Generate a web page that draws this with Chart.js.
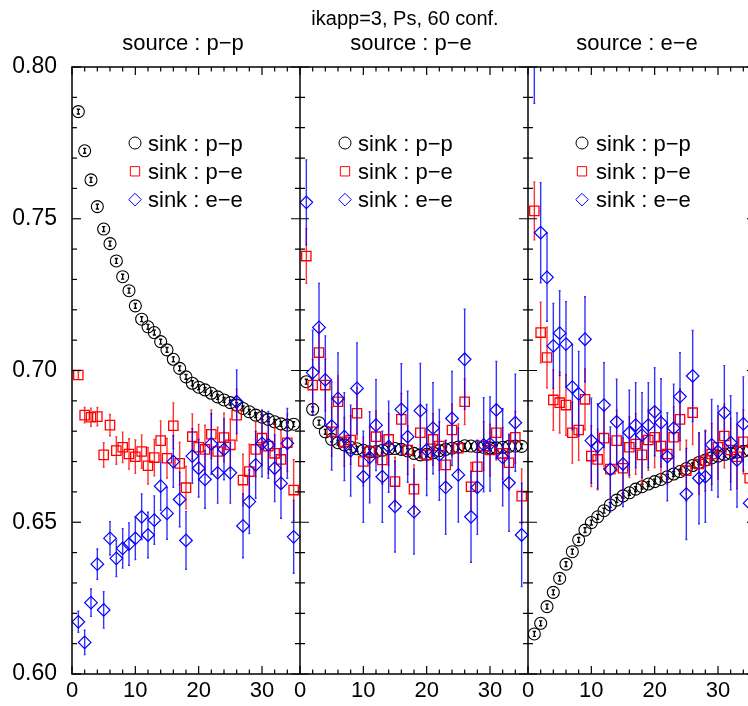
<!DOCTYPE html>
<html>
<head>
<meta charset="utf-8">
<script src="https://cdn.jsdelivr.net/npm/chart.js@4/dist/chart.umd.min.js"></script>
<style>
html,body{margin:0;padding:0;background:#fff;overflow:hidden;width:748px;height:706px;}
#wrap{position:absolute;left:0;top:0;width:810px;height:706px;}
</style>
</head>
<body>
<div id="wrap"><canvas id="c" width="810" height="706" style="width:810px;height:706px"></canvas></div>
<script>
// ---------- data ----------
const chartTitle = 'ikapp=3, Ps, 60 conf.';
const sourceLabels = ['source : p\u2212p', 'source : p\u2212e', 'source : e\u2212e'];
const sinkLabels = ['sink : p\u2212p', 'sink : p\u2212e', 'sink : e\u2212e'];
const steps = [1,2,3,4,5,6,7,8,9,10,11,12,13,14,15,16,17,18,19,20,21,22,23,24,25,26,27,28,29,30,31,32,33,34,35];
const xTickLabels = [0, 10, 20, 30];
const xMinorTicks = [0,2,4,6,8,10,12,14,16,18,20,22,24,26,28,30,32,34];
const yTickLabels = [0.60, 0.65, 0.70, 0.75, 0.80];
const panelWidth = 36;

// source p-p
const srcPP_sinkPP = [0.7853,0.7724,0.7628,0.7540,0.7466,0.7418,0.7361,0.7309,0.7263,0.7213,0.7169,0.7144,0.7125,0.7095,0.7068,0.7037,0.7007,0.6979,0.6958,0.6945,0.6936,0.6925,0.6913,0.6903,0.6894,0.6886,0.6875,0.6864,0.6853,0.6846,0.6839,0.6831,0.6824,0.6820,0.6823];
const errPP_sinkPP = [0.0008,0.0008,0.0008,0.0008,0.0008,0.0008,0.0008,0.0008,0.0008,0.0008,0.0008,0.0008,0.0008,0.0008,0.0008,0.0008,0.0008,0.0008,0.0008,0.0008,0.0008,0.0008,0.0008,0.0008,0.0008,0.0008,0.0008,0.0008,0.0008,0.0008,0.0008,0.0008,0.0008,0.0008,0.0008];
const srcPP_sinkPE = [0.6985,0.6853,0.6846,0.6848,0.6722,0.6820,0.6736,0.6747,0.6725,0.6716,0.6733,0.6686,0.6713,0.6769,0.6711,0.6818,0.6694,0.6614,0.6782,0.6747,0.6740,0.6790,0.6733,0.6779,0.6755,0.6853,0.6639,0.6667,0.6740,0.6777,0.6751,0.6727,0.6707,0.6762,0.6606];
const errPP_sinkPE = [0.0010,0.0025,0.0030,0.0030,0.0040,0.0035,0.0045,0.0050,0.0050,0.0055,0.0055,0.0060,0.0060,0.0065,0.0065,0.0075,0.0070,0.0070,0.0075,0.0075,0.0080,0.0080,0.0080,0.0080,0.0085,0.0085,0.0085,0.0090,0.0090,0.0090,0.0090,0.0095,0.0095,0.0095,0.0100];
const srcPP_sinkEE = [0.6172,0.6104,0.6235,0.6362,0.6211,0.6447,0.6381,0.6414,0.6428,0.6447,0.6518,0.6458,0.6507,0.6619,0.6529,0.6700,0.6575,0.6440,0.6718,0.6678,0.6641,0.6758,0.6663,0.6740,0.6663,0.6897,0.6488,0.6568,0.6689,0.6760,0.6755,0.6678,0.6628,0.6760,0.6452];
const errPP_sinkEE = [0.0035,0.0040,0.0045,0.0050,0.0060,0.0055,0.0060,0.0065,0.0070,0.0070,0.0075,0.0075,0.0080,0.0080,0.0085,0.0085,0.0090,0.0095,0.0090,0.0095,0.0095,0.0100,0.0100,0.0100,0.0100,0.0105,0.0105,0.0105,0.0110,0.0110,0.0110,0.0110,0.0115,0.0115,0.0120];

// source p-e
const srcPE_sinkPP = [0.6963,0.6872,0.6828,0.6798,0.6773,0.6762,0.6755,0.6747,0.6742,0.6737,0.6732,0.6733,0.6737,0.6742,0.6743,0.6740,0.6735,0.6727,0.6722,0.6724,0.6729,0.6736,0.6740,0.6744,0.6748,0.6752,0.6751,0.6749,0.6747,0.6745,0.6745,0.6747,0.6750,0.6751,0.6750];
const errPE_sinkPP = [0.0008,0.0008,0.0008,0.0008,0.0008,0.0008,0.0008,0.0008,0.0008,0.0008,0.0008,0.0008,0.0008,0.0008,0.0008,0.0008,0.0008,0.0008,0.0008,0.0008,0.0008,0.0008,0.0008,0.0008,0.0008,0.0008,0.0008,0.0008,0.0008,0.0008,0.0008,0.0008,0.0008,0.0008,0.0008];
const srcPE_sinkPE = [0.7377,0.6952,0.7059,0.6952,0.6798,0.6897,0.6765,0.6771,0.6859,0.6700,0.6733,0.6782,0.6705,0.6773,0.6634,0.6839,0.6738,0.6609,0.6795,0.6722,0.6773,0.6751,0.6689,0.6804,0.6744,0.6897,0.6617,0.6683,0.6751,0.6738,0.6795,0.6727,0.6696,0.6780,0.6586];
const errPE_sinkPE = [0.0090,0.0085,0.0090,0.0085,0.0080,0.0085,0.0080,0.0080,0.0085,0.0080,0.0080,0.0085,0.0080,0.0085,0.0080,0.0085,0.0080,0.0080,0.0085,0.0080,0.0085,0.0080,0.0080,0.0085,0.0080,0.0075,0.0080,0.0085,0.0080,0.0085,0.0090,0.0085,0.0090,0.0085,0.0090];
const srcPE_sinkEE = [0.7554,0.6993,0.7142,0.6969,0.6817,0.6908,0.6782,0.6736,0.6941,0.6650,0.6714,0.6820,0.6650,0.6749,0.6552,0.6872,0.6782,0.6535,0.6868,0.6738,0.6810,0.6722,0.6615,0.6842,0.6656,0.7037,0.6518,0.6615,0.6755,0.6758,0.6870,0.6714,0.6630,0.6828,0.6458];
const errPE_sinkEE = [0.0140,0.0140,0.0145,0.0145,0.0145,0.0150,0.0145,0.0150,0.0150,0.0150,0.0150,0.0150,0.0150,0.0150,0.0150,0.0150,0.0150,0.0140,0.0155,0.0150,0.0150,0.0150,0.0155,0.0155,0.0155,0.0165,0.0150,0.0155,0.0155,0.0155,0.0160,0.0160,0.0160,0.0160,0.0170];

// source e-e
const srcEE_sinkPP = [0.6132,0.6167,0.6222,0.6269,0.6315,0.6362,0.6403,0.6442,0.6474,0.6499,0.6518,0.6538,0.6557,0.6573,0.6587,0.6597,0.6609,0.6617,0.6626,0.6634,0.6641,0.6650,0.6659,0.6667,0.6677,0.6687,0.6697,0.6705,0.6712,0.6718,0.6723,0.6727,0.6731,0.6734,0.6737];
const errEE_sinkPP = [0.0008,0.0008,0.0008,0.0008,0.0008,0.0008,0.0008,0.0008,0.0008,0.0008,0.0008,0.0008,0.0008,0.0008,0.0008,0.0008,0.0008,0.0008,0.0008,0.0008,0.0008,0.0008,0.0008,0.0008,0.0008,0.0008,0.0008,0.0008,0.0008,0.0008,0.0008,0.0008,0.0008,0.0008,0.0008];
const srcEE_sinkPE = [0.7526,0.7125,0.7043,0.6903,0.6894,0.6886,0.6795,0.6804,0.6905,0.6718,0.6707,0.6777,0.6675,0.6769,0.6678,0.6747,0.6758,0.6722,0.6771,0.6780,0.6751,0.6725,0.6780,0.6839,0.6670,0.6861,0.6692,0.6703,0.6725,0.6747,0.6784,0.6738,0.6716,0.6765,0.6645];
const errEE_sinkPE = [0.0095,0.0100,0.0100,0.0100,0.0100,0.0100,0.0100,0.0100,0.0100,0.0100,0.0100,0.0100,0.0100,0.0100,0.0100,0.0100,0.0100,0.0100,0.0100,0.0100,0.0100,0.0100,0.0100,0.0100,0.0100,0.0105,0.0100,0.0100,0.0100,0.0105,0.0105,0.0105,0.0105,0.0105,0.0110];
const srcEE_sinkEE = [0.8050,0.7454,0.7307,0.7081,0.7123,0.7087,0.6945,0.6923,0.7103,0.6769,0.6751,0.6886,0.6674,0.6831,0.6692,0.6795,0.6820,0.6787,0.6820,0.6864,0.6828,0.6716,0.6810,0.6914,0.6593,0.6982,0.6645,0.6650,0.6755,0.6733,0.6861,0.6762,0.6705,0.6824,0.6563];
const errEE_sinkEE = [0.0170,0.0165,0.0145,0.0140,0.0140,0.0140,0.0140,0.0140,0.0140,0.0140,0.0140,0.0140,0.0140,0.0140,0.0140,0.0140,0.0140,0.0140,0.0140,0.0145,0.0145,0.0145,0.0145,0.0145,0.0150,0.0150,0.0150,0.0150,0.0150,0.0150,0.0155,0.0155,0.0155,0.0155,0.0160];

// ---------- build ----------
const panelSeries = [
  [[srcPP_sinkPP, errPP_sinkPP], [srcPE_sinkPP, errPE_sinkPP], [srcEE_sinkPP, errEE_sinkPP]],
  [[srcPP_sinkPE, errPP_sinkPE], [srcPE_sinkPE, errPE_sinkPE], [srcEE_sinkPE, errEE_sinkPE]],
  [[srcPP_sinkEE, errPP_sinkEE], [srcPE_sinkEE, errPE_sinkEE], [srcEE_sinkEE, errEE_sinkEE]]
];
function buildPoints(sinkIdx) {
  const pts = [];
  panelSeries[sinkIdx].forEach((pair, p) => {
    const vals = pair[0], errs = pair[1];
    steps.forEach((t, i) => pts.push({ x: t + p * panelWidth, y: vals[i], e: errs[i] }));
  });
  return pts;
}
const styles = [
  { pointStyle: 'circle', radius: 6, color: '#000000', err: '#000000', bw: 1.1, order: 3 },
  { pointStyle: 'rect', radius: 6.6, color: '#ff0000', err: 'rgba(255,0,0,0.8)', bw: 1.3, order: 2 },
  { pointStyle: 'rectRot', radius: 6.3, color: '#0000ff', err: 'rgba(0,0,255,0.8)', bw: 1.2, order: 1 }
];
const datasets = sinkLabels.map((lab, k) => ({
  label: lab,
  data: buildPoints(k),
  showLine: false,
  pointStyle: styles[k].pointStyle,
  pointRadius: styles[k].radius,
  pointHoverRadius: styles[k].radius,
  pointBorderWidth: styles[k].bw,
  borderColor: styles[k].color,
  pointBorderColor: styles[k].color,
  backgroundColor: 'rgba(0,0,0,0)',
  pointBackgroundColor: 'rgba(0,0,0,0)',
  order: styles[k].order,
  errColor: styles[k].err
}));

const FONT = "'Liberation Sans', Arial, Helvetica, sans-serif";
Chart.defaults.font.family = FONT;
Chart.defaults.color = '#000';

const errorBars = {
  id: 'errorBars',
  beforeDatasetDraw(chart, args) {
    const ds = chart.data.datasets[args.index];
    const { ctx, chartArea: a, scales: { x, y } } = chart;
    ctx.save();
    ctx.beginPath(); ctx.rect(a.left, a.top, a.right - a.left, a.bottom - a.top); ctx.clip();
    ctx.strokeStyle = ds.errColor;
    ctx.lineWidth = 1.4;
    const cap = args.index === 0 ? 1.6 : 1.0;
    ds.data.forEach(d => {
      const px = x.getPixelForValue(d.x);
      const y1 = y.getPixelForValue(d.y - d.e), y2 = y.getPixelForValue(d.y + d.e);
      ctx.beginPath();
      ctx.moveTo(px, y1); ctx.lineTo(px, y2);
      ctx.moveTo(px - cap, y1); ctx.lineTo(px + cap, y1);
      ctx.moveTo(px - cap, y2); ctx.lineTo(px + cap, y2);
      ctx.stroke();
    });
    ctx.restore();
  }
};

const frame = {
  id: 'frame',
  afterDatasetsDraw(chart) {
    const { ctx, chartArea: a, scales: { x, y } } = chart;
    ctx.save();
    ctx.strokeStyle = '#000';
    ctx.lineWidth = 1.5;
    ctx.strokeRect(a.left, a.top, a.right - a.left, a.bottom - a.top);
    for (let p = 1; p < sourceLabels.length; p++) {
      const px = x.getPixelForValue(p * panelWidth);
      ctx.beginPath(); ctx.moveTo(px, a.top); ctx.lineTo(px, a.bottom); ctx.stroke();
    }
    ctx.lineWidth = 1.2;
    for (let p = 0; p < sourceLabels.length; p++) {
      xMinorTicks.forEach(v => {
        const major = xTickLabels.includes(v);
        const len = major ? 8 : 4.5;
        const px = x.getPixelForValue(p * panelWidth + v);
        ctx.beginPath();
        ctx.moveTo(px, a.bottom); ctx.lineTo(px, a.bottom - len);
        ctx.moveTo(px, a.top); ctx.lineTo(px, a.top + len);
        ctx.stroke();
      });
    }
    const ymin = y.min, ymax = y.max;
    for (let k = 0; k <= 20; k++) {
      const val = ymin + k * (ymax - ymin) / 20;
      const major = k % 5 === 0;
      const len = major ? 9 : 5;
      const py = y.getPixelForValue(val);
      for (let p = 0; p <= sourceLabels.length; p++) {
        const px = x.getPixelForValue(p * panelWidth);
        ctx.beginPath();
        if (p < sourceLabels.length) { ctx.moveTo(px, py); ctx.lineTo(px + len, py); }
        if (p > 0) { ctx.moveTo(px, py); ctx.lineTo(px - len, py); }
        ctx.stroke();
      }
    }
    ctx.restore();
  }
};

const panelText = {
  id: 'panelText',
  afterDraw(chart) {
    const { ctx, chartArea: a, scales: { x } } = chart;
    ctx.save();
    ctx.fillStyle = '#000';
    // overall title, centred over the full figure width
    ctx.font = '20px ' + FONT;
    ctx.textAlign = 'center';
    ctx.textBaseline = 'alphabetic';
    ctx.fillText(chartTitle, 405, 25);
    ctx.font = '22px ' + FONT;
    const subOff = [111, 111, 109];
    const symOff = [63, 45, 54];
    const txtOff = [76, 58, 68];
    const rowY = [76, 104.3, 132.6];
    sourceLabels.forEach((s, p) => {
      const base = x.getPixelForValue(p * panelWidth);
      ctx.textAlign = 'center';
      ctx.fillText(s, base + subOff[p], 50);
      ctx.textAlign = 'left';
      chart.data.datasets.forEach((ds, k) => {
        const sy = a.top + rowY[k];
        const sx = base + symOff[p];
        ctx.save();
        ctx.strokeStyle = ds.borderColor;
        ctx.fillStyle = 'rgba(0,0,0,0)';
        Chart.helpers.drawPoint(ctx, { pointStyle: ds.pointStyle, radius: ds.pointRadius, borderWidth: ds.pointBorderWidth, rotation: 0 }, sx, sy);
        ctx.restore();
        ctx.fillText(ds.label, base + txtOff[p], sy + 7.5);
      });
    });
    ctx.restore();
  }
};

new Chart(document.getElementById('c'), {
  type: 'scatter',
  data: { datasets },
  options: {
    responsive: false,
    animation: false,
    events: [],
    layout: { padding: { left: 0, right: 54, top: 67, bottom: 0 } },
    plugins: {
      legend: { display: false },
      tooltip: { enabled: false },
      title: { display: false }
    },
    scales: {
      x: {
        type: 'linear',
        min: 0,
        max: panelWidth * sourceLabels.length,
        grid: { display: false, drawTicks: false },
        border: { display: false },
        afterFit: s => { s.height = 32; },
        afterBuildTicks: s => {
          const t = [];
          for (let p = 0; p < sourceLabels.length; p++) xMinorTicks.forEach(v => t.push({ value: p * panelWidth + v }));
          s.ticks = t;
        },
        ticks: {
          autoSkip: false,
          maxRotation: 0,
          padding: 4,
          color: '#000',
          font: { size: 22 },
          callback: v => {
            const m = Math.round(v) % panelWidth;
            return xTickLabels.includes(m) ? String(m) : '';
          }
        }
      },
      y: {
        min: 0.6,
        max: 0.8,
        grid: { display: false, drawTicks: false },
        border: { display: false },
        afterFit: s => { s.width = 72; },
        afterBuildTicks: s => { s.ticks = yTickLabels.map(v => ({ value: v })); },
        ticks: {
          autoSkip: false,
          padding: 15,
          color: '#000',
          font: { size: 23 },
          callback: v => Number(v).toFixed(2)
        }
      }
    }
  },
  plugins: [errorBars, frame, panelText]
});
</script>
</body>
</html>
